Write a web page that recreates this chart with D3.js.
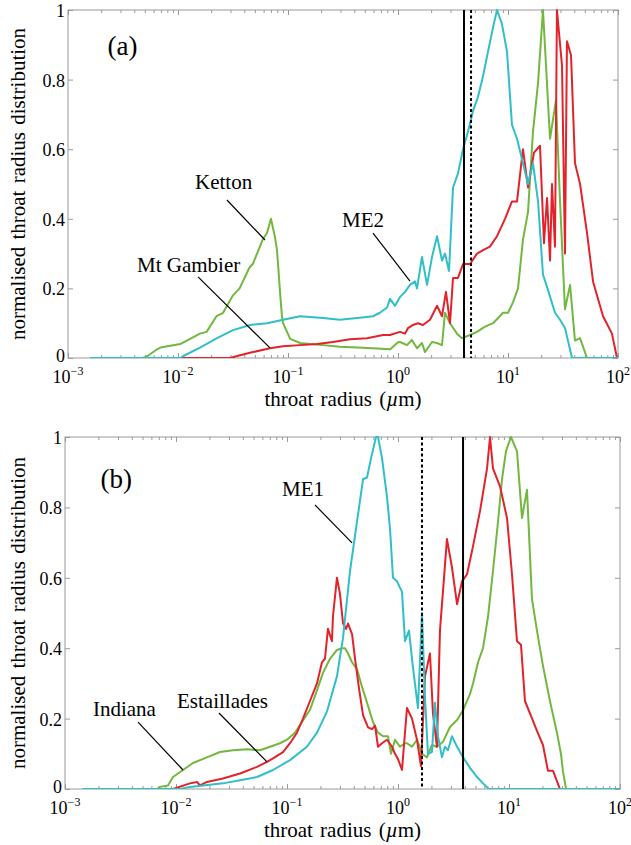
<!DOCTYPE html>
<html>
<head>
<meta charset="utf-8">
<script src="https://cdn.jsdelivr.net/npm/d3@7"></script>
<style>
  body { margin: 0; background: #fff; }
  svg text { font-family: "Liberation Serif", "DejaVu Serif", "Times New Roman", serif !important; fill: #000; }
</style>
</head>
<body>
<svg id="chart" width="631" height="845" font-family="Liberation Serif, DejaVu Serif, serif"></svg>
<script>
// Throat radius distributions; x values are log10 of the throat radius in µm.

// Panel (a)
const kettonA = [[-2.80,0],[-2.32,0],[-2.28,0.005],[-2.19,0.025],[-2.16,0.03],[-1.98,0.04],[-1.80,0.07],[-1.74,0.075],
  [-1.65,0.12],[-1.59,0.13],[-1.50,0.18],[-1.44,0.20],[-1.35,0.26],[-1.32,0.27],[-1.23,0.34],[-1.19,0.36],[-1.155,0.40],
  [-1.12,0.35],[-1.10,0.31],[-1.07,0.18],[-1.055,0.12],[-1.045,0.10],[-0.98,0.055],[-0.89,0.043],[-0.80,0.04],[-0.68,0.037],
  [-0.53,0.032],[-0.37,0.03],[-0.23,0.028],[-0.07,0.025],[0.0,0.045],[0.018,0.046],[0.082,0.037],[0.127,0.052],[0.173,0.028],
  [0.218,0.043],[0.245,0.017],[0.309,0.046],[0.355,0.043],[0.40,0.037],[0.427,0.13],[0.473,0.10],[0.536,0.07],[0.582,0.057],
  [0.655,0.066],[0.718,0.075],[0.791,0.09],[0.864,0.10],[0.955,0.13],[1.0,0.13],[1.045,0.16],[1.091,0.20],[1.136,0.34],
  [1.182,0.42],[1.227,0.65],[1.273,0.79],[1.318,1.0],[1.382,0.63],[1.436,0.74],[1.473,0.45],[1.518,0.14],[1.564,0.21],
  [1.609,0.05],[1.655,0.057],[1.718,0],[2.0,0]];

const mtGambierA = [[-2.80,0],[-1.527,0],[-1.436,0.008],[-1.318,0.017],[-1.164,0.028],[-1.045,0.034],[-0.891,0.037],
  [-0.736,0.04],[-0.591,0.046],[-0.436,0.054],[-0.282,0.057],[-0.136,0.066],[-0.073,0.066],[0.018,0.075],[0.064,0.07],
  [0.091,0.086],[0.136,0.095],[0.182,0.10],[0.227,0.095],[0.291,0.11],[0.355,0.15],[0.40,0.12],[0.436,0.19],[0.473,0.10],
  [0.50,0.23],[0.545,0.23],[0.591,0.27],[0.655,0.27],[0.718,0.30],[0.773,0.31],[0.836,0.32],[0.90,0.35],[0.973,0.40],
  [1.036,0.45],[1.082,0.45],[1.136,0.60],[1.182,0.49],[1.236,0.59],[1.291,0.61],[1.327,0.33],[1.355,0.46],[1.382,0.28],
  [1.40,0.50],[1.427,0.32],[1.445,1.0],[1.491,0.84],[1.518,0.30],[1.536,0.91],[1.573,0.87],[1.609,0.56],[1.655,0.50],
  [1.718,0.36],[1.773,0.22],[1.864,0.12],[1.945,0.07],[1.991,0]];

const me2A = [[-2.80,0],[-1.98,0],[-1.955,0.005],[-1.80,0.03],[-1.645,0.057],[-1.50,0.08],[-1.345,0.095],[-1.19,0.10],
  [-1.045,0.11],[-0.89,0.12],[-0.68,0.115],[-0.53,0.11],[-0.37,0.115],[-0.227,0.12],[-0.164,0.13],[-0.10,0.145],
  [-0.073,0.17],[-0.027,0.15],[0.018,0.175],[0.064,0.19],[0.109,0.21],[0.155,0.22],[0.173,0.20],[0.218,0.29],[0.264,0.21],
  [0.309,0.29],[0.355,0.35],[0.40,0.28],[0.427,0.30],[0.464,0.25],[0.50,0.49],[0.545,0.53],[0.591,0.60],[0.636,0.65],
  [0.682,0.71],[0.727,0.75],[0.773,0.81],[0.818,0.88],[0.864,0.95],[0.90,1.0],[0.945,0.96],[0.991,0.88],[1.036,0.67],
  [1.082,0.63],[1.136,0.56],[1.182,0.50],[1.227,0.56],[1.273,0.45],[1.318,0.24],[1.364,0.195],[1.427,0.13],[1.473,0.11],
  [1.518,0.086],[1.582,0],[2.0,0]];

// Panel (b)
const indianaB = [[-2.84,0],[-2.171,0],[-2.144,0.006],[-2.072,0.01],[-2.027,0.034],[-1.937,0.054],[-1.847,0.074],
  [-1.721,0.09],[-1.604,0.105],[-1.486,0.11],[-1.36,0.113],[-1.243,0.11],[-1.153,0.12],[-1.063,0.13],[-1.0,0.14],
  [-0.928,0.16],[-0.856,0.195],[-0.793,0.225],[-0.73,0.28],[-0.676,0.33],[-0.613,0.37],[-0.55,0.395],[-0.505,0.40],
  [-0.477,0.40],[-0.45,0.385],[-0.414,0.36],[-0.369,0.34],[-0.324,0.29],[-0.279,0.245],[-0.225,0.19],[-0.18,0.16],
  [-0.135,0.15],[-0.09,0.15],[-0.063,0.10],[-0.027,0.14],[0.018,0.12],[0.063,0.13],[0.081,0.13],[0.126,0.12],[0.171,0.14],
  [0.216,0.10],[0.261,0.09],[0.306,0.125],[0.351,0.12],[0.405,0.134],[0.468,0.176],[0.532,0.196],[0.586,0.224],
  [0.649,0.27],[0.676,0.30],[0.721,0.36],[0.766,0.40],[0.811,0.49],[0.856,0.62],[0.901,0.76],[0.937,0.88],[0.973,0.96],
  [1.018,1.0],[1.045,0.98],[1.072,0.96],[1.117,0.77],[1.162,0.85],[1.207,0.54],[1.252,0.45],[1.306,0.35],[1.369,0.25],
  [1.432,0.16],[1.468,0.10],[1.486,0.05],[1.514,0],[2.0,0]];

const estailladesB = [[-2.84,0],[-2.027,0],[-1.874,0.016],[-1.811,0.02],[-1.784,0.01],[-1.721,0.02],[-1.577,0.03],
  [-1.423,0.044],[-1.27,0.063],[-1.18,0.077],[-1.126,0.087],[-1.036,0.105],[-0.973,0.13],[-0.91,0.16],[-0.856,0.20],
  [-0.793,0.25],[-0.73,0.30],[-0.685,0.36],[-0.658,0.37],[-0.631,0.455],[-0.595,0.42],[-0.586,0.49],[-0.55,0.60],
  [-0.523,0.555],[-0.495,0.47],[-0.468,0.455],[-0.45,0.47],[-0.414,0.44],[-0.387,0.37],[-0.351,0.285],[-0.315,0.21],
  [-0.27,0.175],[-0.234,0.17],[-0.207,0.18],[-0.18,0.12],[-0.144,0.13],[-0.099,0.14],[-0.054,0.12],[-0.027,0.10],
  [0.0,0.085],[0.036,0.054],[0.081,0.23],[0.126,0.20],[0.171,0.14],[0.207,0.065],[0.243,0.32],[0.288,0.385],[0.315,0.215],
  [0.351,0.12],[0.378,0.45],[0.441,0.71],[0.486,0.63],[0.532,0.525],[0.577,0.59],[0.622,0.61],[0.676,0.69],[0.739,0.79],
  [0.802,0.91],[0.829,1.0],[0.856,0.91],[0.919,0.86],[0.982,0.77],[1.027,0.61],[1.072,0.42],[1.108,0.41],[1.144,0.25],
  [1.189,0.215],[1.252,0.165],[1.306,0.125],[1.351,0.052],[1.396,0.052],[1.459,0],[2.0,0]];

const me1B = [[-2.84,0],[-1.964,0],[-1.874,0.006],[-1.577,0.016],[-1.423,0.025],[-1.27,0.034],[-1.126,0.054],
  [-0.973,0.082],[-0.82,0.12],[-0.73,0.16],[-0.64,0.22],[-0.55,0.32],[-0.495,0.43],[-0.432,0.62],[-0.369,0.76],
  [-0.315,0.88],[-0.279,0.885],[-0.243,0.94],[-0.198,1.0],[-0.18,1.0],[-0.144,0.94],[-0.099,0.83],[-0.072,0.74],
  [-0.045,0.60],[-0.009,0.59],[0.036,0.56],[0.063,0.42],[0.099,0.45],[0.135,0.345],[0.18,0.23],[0.216,0.50],[0.243,0.26],
  [0.27,0.10],[0.306,0.105],[0.333,0.245],[0.36,0.15],[0.396,0.09],[0.423,0.12],[0.45,0.11],[0.486,0.15],[0.532,0.12],
  [0.586,0.09],[0.649,0.06],[0.712,0.034],[0.766,0.016],[0.82,0],[2.0,0]];

// Reference radii (log10 µm) marked by vertical lines
const vlinesA = [{e: 0.60, dashed: false}, {e: 0.664, dashed: true}];
const vlinesB = [{e: 0.216, dashed: true}, {e: 0.586, dashed: false}];

const xDecades = [-3, -2, -1, 0, 1, 2];
const yTicks = [0, 0.2, 0.4, 0.6, 0.8, 1];

const GREEN = "#72b83f", RED = "#e1232b", CYAN = "#30bfc8", AXIS = "#9a9a9a";
const SERIF = "Liberation Serif, DejaVu Serif, serif";

const svg = d3.select("#chart");

const panels = [
  {
    box: {left: 68, right: 618, top: 10, bottom: 358},
    tag: "(a)", tagAt: [-2.64, 0.87],
    series: [{data: kettonA, color: GREEN}, {data: mtGambierA, color: RED}, {data: me2A, color: CYAN}],
    vlines: vlinesA,
    notes: [
      {text: "Ketton", at: [-1.845, 0.486], line: [[-1.555, 0.454], [-1.209, 0.339]]},
      {text: "Mt Gambier", at: [-2.373, 0.247], line: [[-1.818, 0.233], [-1.164, 0.029]]},
      {text: "ME2", at: [-0.509, 0.376], line: [[-0.227, 0.359], [0.109, 0.221]]}
    ]
  },
  {
    box: {left: 65, right: 620, top: 437, bottom: 789},
    tag: "(b)", tagAt: [-2.68, 0.855],
    series: [{data: indianaB, color: GREEN}, {data: estailladesB, color: RED}, {data: me1B, color: CYAN}],
    vlines: vlinesB,
    notes: [
      {text: "ME1", at: [-1.045, 0.832], line: [[-0.748, 0.807], [-0.414, 0.699]]},
      {text: "Indiana", at: [-2.748, 0.207], line: [[-2.342, 0.19], [-1.937, 0.054]]},
      {text: "Estaillades", at: [-1.991, 0.23], line: [[-1.613, 0.216], [-1.18, 0.077]]}
    ]
  }
];

function drawPanel(p) {
  const b = p.box;
  const x = d3.scaleLog().domain([1e-3, 1e2]).range([b.left, b.right]);
  const y = d3.scaleLinear().domain([0, 1]).range([b.bottom, b.top]);
  const X = e => x(Math.pow(10, e));
  const g = svg.append("g").attr("font-family", SERIF);

  // minor and major ticks, pointing inward on all four sides
  const minor = x.ticks().filter(v => !xDecades.some(d => Math.abs(Math.log10(v) - d) < 1e-9));
  const major = xDecades.map(d => Math.pow(10, d));
  const styleAxis = sel => {
    sel.select(".domain").remove();
    sel.selectAll("line").attr("stroke", AXIS).attr("stroke-width", 1);
    sel.selectAll("text").remove();
  };
  g.append("g").attr("transform", `translate(0,${b.bottom})`)
    .call(d3.axisBottom(x).tickValues(minor).tickSize(-3).tickFormat("")).call(styleAxis);
  g.append("g").attr("transform", `translate(0,${b.bottom})`)
    .call(d3.axisBottom(x).tickValues(major).tickSize(-5).tickFormat("")).call(styleAxis);
  g.append("g").attr("transform", `translate(0,${b.top})`)
    .call(d3.axisTop(x).tickValues(minor).tickSize(-3).tickFormat("")).call(styleAxis);
  g.append("g").attr("transform", `translate(0,${b.top})`)
    .call(d3.axisTop(x).tickValues(major).tickSize(-5).tickFormat("")).call(styleAxis);
  g.append("g").attr("transform", `translate(${b.right},0)`)
    .call(d3.axisRight(y).tickValues(yTicks).tickSize(-5).tickFormat("")).call(styleAxis);

  const yAxis = g.append("g").attr("transform", `translate(${b.left},0)`)
    .call(d3.axisLeft(y).tickValues(yTicks).tickSize(-5).tickPadding(3)
      .tickFormat(v => v === 0 ? "0" : v === 1 ? "1" : d3.format(".1f")(v)));
  yAxis.attr("font-family", SERIF);
  yAxis.select(".domain").remove();
  yAxis.selectAll("line").attr("stroke", AXIS);
  yAxis.selectAll("text").attr("font-size", 18).attr("font-family", SERIF)
    .attr("fill", "#000").attr("dy", d => d === 0 ? "0.2em" : "0.36em");

  // box
  g.append("rect").attr("x", b.left).attr("y", b.top)
    .attr("width", b.right - b.left).attr("height", b.bottom - b.top)
    .attr("fill", "none").attr("stroke", AXIS).attr("stroke-width", 1);

  // decade labels 10^n
  const lab = g.selectAll(".xlab").data(xDecades).join("text")
    .attr("class", "xlab").attr("x", d => X(d)).attr("y", b.bottom + 25)
    .attr("text-anchor", "middle").attr("font-size", 18).attr("font-family", SERIF);
  lab.append("tspan").text("10");
  lab.append("tspan").attr("dy", -8).attr("font-size", 12).text(d => d < 0 ? "\u2212" + (-d) : String(d));

  // axis titles
  g.append("text").attr("x", (b.left + b.right) / 2).attr("y", b.bottom + 48)
    .attr("text-anchor", "middle").attr("font-size", 21).attr("word-spacing", 2).attr("font-family", SERIF)
    .call(t => {
      t.append("tspan").text("throat radius (");
      t.append("tspan").attr("font-style", "italic").text("\u00b5");
      t.append("tspan").text("m)");
    });
  g.append("text")
    .attr("transform", `translate(25,${(b.top + b.bottom) / 2}) rotate(-90)`)
    .attr("text-anchor", "middle").attr("font-size", 21).attr("word-spacing", 2).attr("font-family", SERIF)
    .text("normalised throat radius distribution");

  // curves
  const line = d3.line().x(d => X(d[0])).y(d => y(d[1]));
  const clip = "clip" + b.top;
  g.append("clipPath").attr("id", clip).append("rect")
    .attr("x", b.left).attr("y", b.top - 2).attr("width", b.right - b.left).attr("height", b.bottom - b.top + 2);
  const curves = g.append("g").attr("clip-path", `url(#${clip})`);
  p.series.forEach(s => {
    curves.append("path").datum(s.data).attr("d", line)
      .attr("fill", "none").attr("stroke", s.color).attr("stroke-width", 2)
      .attr("stroke-linejoin", "round");
  });

  // vertical reference lines
  g.selectAll(".vline").data(p.vlines).join("line").attr("class", "vline")
    .attr("x1", d => X(d.e)).attr("x2", d => X(d.e))
    .attr("y1", b.top).attr("y2", b.bottom)
    .attr("stroke", "#000").attr("stroke-width", 2)
    .attr("stroke-dasharray", d => d.dashed ? "3,2.5" : null);

  // annotations
  p.notes.forEach(n => {
    g.append("text").attr("x", X(n.at[0])).attr("y", y(n.at[1])).attr("font-size", 21)
      .attr("font-family", SERIF).text(n.text);
    g.append("line")
      .attr("x1", X(n.line[0][0])).attr("y1", y(n.line[0][1]))
      .attr("x2", X(n.line[1][0])).attr("y2", y(n.line[1][1]))
      .attr("stroke", "#000").attr("stroke-width", 1.2);
  });

  g.append("text").attr("x", X(p.tagAt[0])).attr("y", y(p.tagAt[1])).attr("font-size", 27)
    .attr("font-family", SERIF).text(p.tag);
}

panels.forEach(drawPanel);
</script>
</body>
</html>
